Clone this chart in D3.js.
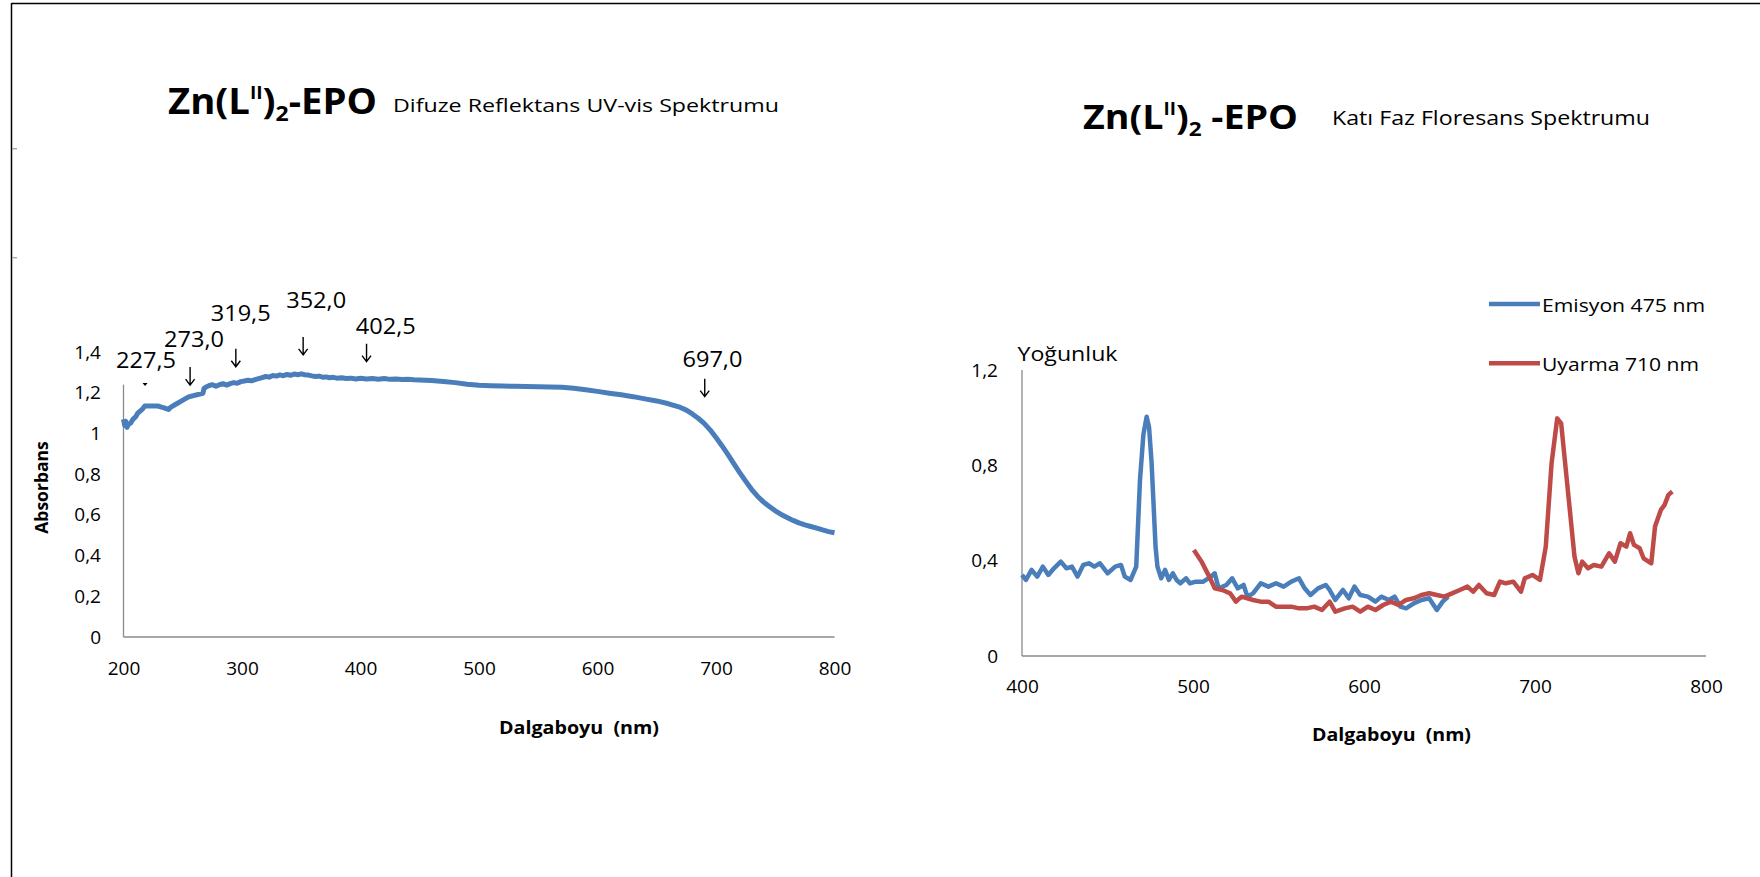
<!DOCTYPE html>
<html>
<head>
<meta charset="utf-8">
<script src="https://cdn.jsdelivr.net/npm/d3@7"></script>
<style>
  html, body { margin: 0; padding: 0; background: #fff; }
  svg { display: block; }
  text { font-family: "Open Sans", "Noto Sans", sans-serif; fill: #000; }
</style>
</head>
<body>
<script>
// ---------------- DATA ----------------
// Left: Difuze Reflektans UV-vis
const uvNm  = [200,201,202,203,204,206,208,210,212,214,216,218,229,232,235,238,240,243,246,249,252,255,267,
  268,270,272,275,278,281,284,287,290,293,296,299,302,305,308,311,314,317,320,323,326,329,332,335,338,341,344,347,350,
  353,356,359,362,365,368,371,374,377,380,384,388,392,396,400,405,410,415,420,425,430,435,440,445,450,460,470,480,490,
  500,510,520,530,540,550,560,570,580,590,600,610,620,630,640,650,660,670,675,680,685,690,695,700,705,710,715,720,725,
  730,735,740,745,750,755,760,765,770,775,780,785,790,795,800];
const uvAbs = [1.07,1.04,1.06,1.03,1.045,1.05,1.07,1.08,1.10,1.11,1.12,1.135,1.135,1.13,1.125,1.118,1.13,1.14,1.15,1.16,1.17,1.18,1.198,
  1.222,1.23,1.235,1.24,1.232,1.24,1.245,1.238,1.245,1.25,1.247,1.255,1.258,1.262,1.259,1.265,1.27,1.275,1.28,1.277,1.285,1.282,1.288,1.284,1.29,1.286,1.292,1.289,1.293,
  1.289,1.287,1.283,1.28,1.282,1.277,1.278,1.274,1.276,1.272,1.274,1.27,1.272,1.268,1.271,1.268,1.27,1.267,1.27,1.266,1.268,1.265,1.266,1.264,1.263,1.26,1.256,1.25,1.242,
  1.237,1.235,1.233,1.232,1.231,1.23,1.229,1.227,1.222,1.215,1.207,1.198,1.19,1.181,1.17,1.16,1.146,1.128,1.115,1.096,1.075,1.05,1.018,0.98,0.94,0.897,0.852,0.808,0.766,
  0.726,0.692,0.664,0.641,0.62,0.602,0.587,0.573,0.561,0.551,0.543,0.535,0.526,0.518,0.512];

const uvYTicks = [0,0.2,0.4,0.6,0.8,1,1.2,1.4];
const uvXTicks = [200,300,400,500,600,700,800];

// peak annotations (label text, arrow wavelength / absorbance of arrow tip, label wavelength / absorbance of baseline)
const annLabels   = ["227,5","273,0","319,5","352,0","402,5","697,0"];
const annArrowNm  = [218.2, 256.2, 294.8, 351.6, 405.1, 690.5];
const annArrowAbs = [1.233, 1.238, 1.328, 1.386, 1.353, 1.181];
const annLabelNm  = [219.0, 259.5, 298.9, 362.6, 421.4, 697.0];
const annLabelAbs = [1.322, 1.427, 1.554, 1.617, 1.489, 1.328];

// Right: Katı Faz Floresans
const emisyonNm  = [400,402.3,405.6,408.9,412.2,415.4,418.7,422.7,426,429.2,432.5,435.8,439.1,442.3,445.6,450.1,454.5,457.9,460.1,463.5,
  466.8,469,471,472.9,474.3,475.8,478.1,479.2,481.4,483.7,485.9,488.2,490.4,492.6,496,498.2,501.6,506,510.5,512.7,515,519.5,522.9,526.2,529.6,
  531.8,535.1,539.6,544.1,548.5,553,557.5,562,565.3,568.7,573.1,577.6,579.9,583.2,587.7,591.1,594.4,597.8,602.3,606.7,610.1,614.6,617.9,
  621.3,624.6,629.1,633.6,638.1,642.6,646,649.3];
const emisyonInt = [0.34,0.319,0.361,0.333,0.375,0.34,0.368,0.396,0.368,0.375,0.333,0.382,0.389,0.375,0.389,0.347,0.375,0.382,0.333,0.319,
  0.375,0.739,0.93,1.004,0.96,0.809,0.459,0.375,0.326,0.361,0.319,0.347,0.319,0.305,0.326,0.305,0.312,0.312,0.333,0.347,0.284,0.298,0.326,0.284,0.298,
  0.249,0.263,0.305,0.291,0.305,0.291,0.312,0.326,0.284,0.256,0.284,0.298,0.277,0.235,0.277,0.242,0.291,0.256,0.249,0.228,0.249,0.235,0.249,
  0.207,0.2,0.221,0.235,0.242,0.193,0.228,0.249];

const uyarmaNm  = [500.5,505,509.5,512.7,517.2,521.7,525.1,528.4,535.1,539.6,544.1,548.5,553,557.5,562,566.4,570.9,575.4,579.9,583.2,
  588.8,593.3,597.8,602.3,606.7,611.2,615.7,620.2,624.6,629.1,633.6,638.1,642.6,647,651.5,656,660.5,663.8,667.2,671.7,676.1,679.5,682.9,
  687.3,691.8,694,698.5,702.9,706.3,709.7,713,715.3,718.6,723.1,725.4,727.6,731,734.4,738.8,743.3,746.7,750,753.4,755.6,757.9,761.2,763.5,
  768,770.2,773.6,775.8,778,780.3];
const uyarmaInt = [0.445,0.396,0.333,0.284,0.277,0.263,0.228,0.249,0.235,0.228,0.228,0.207,0.207,0.207,0.2,0.2,0.207,0.193,0.228,0.186,
  0.2,0.207,0.186,0.207,0.193,0.214,0.228,0.214,0.235,0.242,0.256,0.263,0.256,0.249,0.263,0.277,0.291,0.27,0.298,0.263,0.256,0.312,0.305,
  0.312,0.27,0.326,0.34,0.319,0.459,0.809,0.997,0.976,0.739,0.417,0.347,0.396,0.368,0.382,0.375,0.431,0.396,0.473,0.459,0.515,0.466,0.452,0.41,
  0.389,0.543,0.613,0.634,0.676,0.69];

const flYTicks = [0,0.4,0.8,1.2];
const flXTicks = [400,500,600,700,800];
const legendNames = ["Emisyon 475 nm","Uyarma 710 nm"];

// ---------------- DRAW ----------------
const W = 1760, H = 877;
const BLUE = "#4A7EBB", RED = "#BE4B48", AXIS = "#8a8a8a";
const FONT = '"Open Sans", "Noto Sans", sans-serif';
const fmt = d => String(+d.toFixed(1)).replace(".", ",");

const svg = d3.select("body").append("svg").attr("width", W).attr("height", H);
svg.append("rect").attr("width", W).attr("height", H).attr("fill", "#fff");

// frame
svg.append("line").attr("x1", 11.5).attr("x2", W).attr("y1", 3.5).attr("y2", 3.5).attr("stroke", "#000").attr("stroke-width", 1.5);
svg.append("line").attr("x1", 11.5).attr("x2", 11.5).attr("y1", 3).attr("y2", H).attr("stroke", "#000").attr("stroke-width", 1.5);
[148.7, 257.7].forEach(y => svg.append("line").attr("x1", 12).attr("x2", 17).attr("y1", y).attr("y2", y).attr("stroke", "#aaa").attr("stroke-width", 1.5));

function stretch(sel, w) { sel.attr("textLength", w).attr("lengthAdjust", "spacingAndGlyphs"); }

function title(x, y, size, spaced, width) {
  const t = svg.append("text").attr("x", x).attr("y", y).attr("font-size", size).attr("font-weight", 700);
  t.append("tspan").text("Zn(L");
  t.append("tspan").attr("font-size", size * 0.5).attr("dy", -size * 0.42).text("II");
  t.append("tspan").attr("dy", size * 0.42).text(")");
  t.append("tspan").attr("font-size", size * 0.6).attr("dy", size * 0.2).text("2");
  t.append("tspan").attr("dy", -size * 0.2).text(spaced ? "\u00a0-EPO" : "-EPO");
  stretch(t, width);
}

// ---------- Left chart ----------
const xL = d3.scaleLinear().domain([200, 800]).range([123.5, 834.5]);
const yL = d3.scaleLinear().domain([0, 1.4]).range([637, 352.1]);

title(168, 114, 35, false, 209);
stretch(svg.append("text").attr("x", 393).attr("y", 111.5).attr("font-size", 18.5).text("Difuze Reflektans UV-vis Spektrumu"), 386);

const gLx = svg.append("g").attr("transform", `translate(0,${yL(0)})`)
  .call(d3.axisBottom(xL).tickValues(uvXTicks).tickSize(0).tickPadding(24.5).tickFormat(d3.format("d")));
const gLy = svg.append("g").attr("transform", `translate(${xL(200)},0)`)
  .call(d3.axisLeft(yL).tickValues(uvYTicks).tickSize(0).tickPadding(22.5).tickFormat(fmt));
[gLx, gLy].forEach(g => { g.select(".domain").remove(); g.selectAll("text").attr("font-size", 19).attr("font-family", FONT).attr("fill", "#000"); });
svg.append("line").attr("x1", xL(200)).attr("x2", xL(800)).attr("y1", yL(0)).attr("y2", yL(0)).attr("stroke", AXIS).attr("stroke-width", 1.3);
svg.append("line").attr("x1", xL(200)).attr("x2", xL(200)).attr("y1", yL(0)).attr("y2", yL(1.24)).attr("stroke", AXIS).attr("stroke-width", 1.3);

svg.append("path")
  .datum(uvNm.map((d, i) => [d, uvAbs[i]]))
  .attr("fill", "none").attr("stroke", BLUE).attr("stroke-width", 5).attr("stroke-linejoin", "round")
  .attr("d", d3.line().x(d => xL(d[0])).y(d => yL(d[1])));

// annotations
annLabels.forEach((lab, i) => {
  const ax = xL(annArrowNm[i]), ay = yL(annArrowAbs[i]);
  if (i === 0) {
    svg.append("path").attr("d", `M${ax - 2.5},${ay - 3}L${ax + 2.5},${ay - 3}L${ax},${ay}Z`).attr("fill", "#000");
  } else {
    svg.append("path").attr("d", `M${ax},${ay - 18}L${ax},${ay}M${ax - 4.5},${ay - 6}L${ax},${ay}L${ax + 4.5},${ay - 6}`)
      .attr("fill", "none").attr("stroke", "#000").attr("stroke-width", 1.4);
  }
  stretch(svg.append("text").attr("x", xL(annLabelNm[i])).attr("y", yL(annLabelAbs[i]))
    .attr("text-anchor", "middle").attr("font-size", 21).text(lab), 60);
});

svg.append("text").attr("transform", `translate(48,487.5) rotate(-90)`).attr("text-anchor", "middle")
  .attr("font-family", '"Liberation Sans", Arial, sans-serif').attr("font-weight", 700).attr("font-size", 17.5).text("Absorbans");
stretch(svg.append("text").attr("x", 579).attr("y", 734).attr("text-anchor", "middle").attr("font-size", 17)
  .attr("font-weight", 700).style("white-space", "pre").text("Dalgaboyu  (nm)"), 160);

// ---------- Right chart ----------
const xR = d3.scaleLinear().domain([400, 800]).range([1022, 1706]);
const yR = d3.scaleLinear().domain([0, 1.2]).range([656, 370]);

title(1083, 129, 34, true, 215);
stretch(svg.append("text").attr("x", 1332).attr("y", 124.5).attr("font-size", 19.5).text("Katı Faz Floresans Spektrumu"), 318);

const gRx = svg.append("g").attr("transform", `translate(0,${yR(0)})`)
  .call(d3.axisBottom(xR).tickValues(flXTicks).tickSize(0).tickPadding(23.5).tickFormat(d3.format("d")));
const gRy = svg.append("g").attr("transform", `translate(${xR(400)},0)`)
  .call(d3.axisLeft(yR).tickValues(flYTicks).tickSize(0).tickPadding(24).tickFormat(fmt));
[gRx, gRy].forEach(g => { g.select(".domain").remove(); g.selectAll("text").attr("font-size", 19).attr("font-family", FONT).attr("fill", "#000"); });
svg.append("line").attr("x1", xR(400)).attr("x2", xR(800)).attr("y1", yR(0)).attr("y2", yR(0)).attr("stroke", AXIS).attr("stroke-width", 1.3);
svg.append("line").attr("x1", xR(400)).attr("x2", xR(400)).attr("y1", yR(0)).attr("y2", yR(1.2)).attr("stroke", AXIS).attr("stroke-width", 1.3);

const lineR = d3.line().x(d => xR(d[0])).y(d => yR(d[1]));
svg.append("path").datum(emisyonNm.map((d, i) => [d, emisyonInt[i]]))
  .attr("fill", "none").attr("stroke", BLUE).attr("stroke-width", 4.5).attr("stroke-linejoin", "round").attr("d", lineR);
svg.append("path").datum(uyarmaNm.map((d, i) => [d, uyarmaInt[i]]))
  .attr("fill", "none").attr("stroke", RED).attr("stroke-width", 4.5).attr("stroke-linejoin", "round").attr("d", lineR);

stretch(svg.append("text").attr("x", 1017.5).attr("y", 361).attr("font-size", 20).text("Yoğunluk"), 100);
stretch(svg.append("text").attr("x", 1391.5).attr("y", 741).attr("text-anchor", "middle").attr("font-size", 17)
  .attr("font-weight", 700).style("white-space", "pre").text("Dalgaboyu  (nm)"), 159);

// legend
const legY = [304, 363.3], legW = [163, 157], legC = [BLUE, RED];
legendNames.forEach((n, i) => {
  svg.append("line").attr("x1", 1489).attr("x2", 1540).attr("y1", legY[i]).attr("y2", legY[i]).attr("stroke", legC[i]).attr("stroke-width", 4.5);
  stretch(svg.append("text").attr("x", 1542).attr("y", legY[i] + 8).attr("font-size", 18.5).text(n), legW[i]);
});
</script>
</body>
</html>
